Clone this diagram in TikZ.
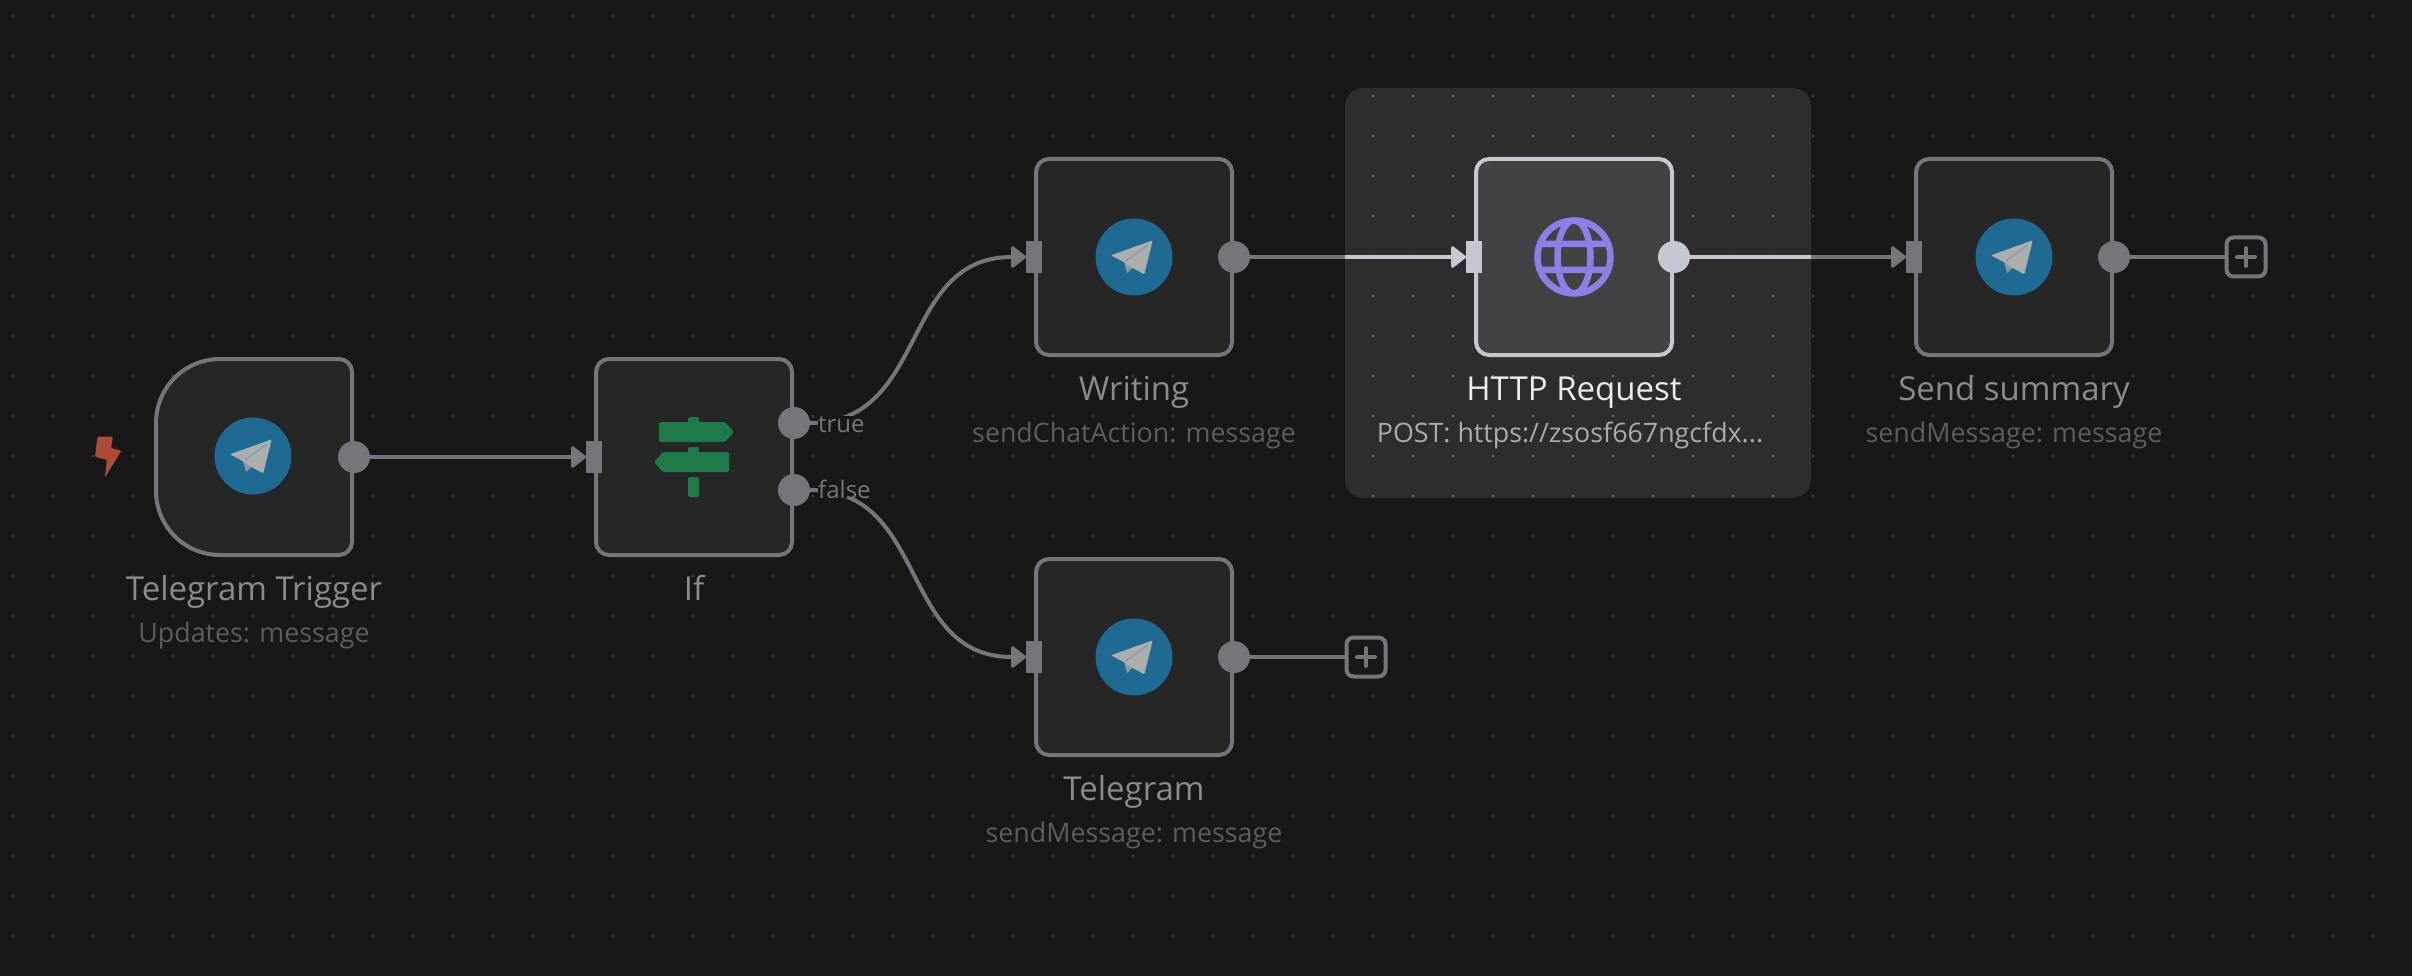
\documentclass[tikz,border=0pt]{standalone}
\usepackage{fontspec}
\setmainfont{Open Sans}
\usepackage{tikz}
\usetikzlibrary{arrows.meta}
\usetikzlibrary{positioning}
\definecolor{canvas}{HTML}{181818}
\definecolor{griddot}{HTML}{4A4A4A}
\definecolor{griddotlit}{HTML}{6E6E6E}
\definecolor{boxfill}{HTML}{262626}
\definecolor{focusfill}{HTML}{2D2D2D}
\definecolor{httpfill}{HTML}{404244}
\definecolor{wire}{HTML}{75767C}
\definecolor{wirelit}{HTML}{C5C8D3}
\definecolor{tgblue}{HTML}{1F6A92}
\definecolor{tgplane}{HTML}{ABAEAD}
\definecolor{tgfold}{HTML}{8A9AA3}
\definecolor{ifgreen}{HTML}{1F7A4A}
\definecolor{globeviolet}{HTML}{8B7FE8}
\definecolor{boltred}{HTML}{AE4A38}
\tikzset{
	flowbox/.style={draw=wire, fill=boxfill, line width=4pt, rounded corners=13pt,
		minimum size=196pt, inner sep=0pt, outer sep=0pt},
	httpbox/.style={flowbox, draw=wirelit, fill=httpfill},
	inport/.style={fill=wire, minimum width=16pt, minimum height=32pt, inner sep=0pt, outer sep=0pt},
	outport/.style={circle, fill=wire, minimum size=32pt, inner sep=0pt, outer sep=0pt},
	inportlit/.style={inport, fill=wirelit},
	outportlit/.style={outport, fill=wirelit},
	edge/.style={draw=wire, line width=4pt, -{Triangle[length=16pt,width=24pt,line width=3pt,round]}},
	edgelit/.style={edge, draw=wirelit},
	link/.style={draw=wire, line width=4pt},
	linklit/.style={draw=wirelit, line width=4pt},
	plusbox/.style={draw=wire, fill=canvas, line width=4pt, rounded corners=7pt,
		minimum size=39pt, inner sep=0pt, outer sep=0pt,
		path picture={
			\draw[wire, line width=4pt, line cap=round]
				(path picture bounding box.center) ++(-9,0) -- ++(18,0)
				(path picture bounding box.center) ++(0,-9) -- ++(0,18);
		}},
	nodename/.style={anchor=base, inner sep=0pt, text=titlegray, font=\fontsize{33}{39}\selectfont},
	nodeinfo/.style={anchor=base, inner sep=0pt, text=infogray, font=\fontsize{26.8}{32}\selectfont},
	branchlabel/.style={anchor=base west, inner sep=0pt, fill=canvas, text=titlegray!85!black,
		font=\fontsize{24}{29}\selectfont},
	telegramicon/.pic={
		\fill[tgblue] (0,0) circle (38.5);
		\fill[tgfold] (-10,5) -- (-7,16) -- (-1,10) -- cycle;
		\fill[tgplane, rounded corners=1pt] (18.7,-16.7) -- (-23,-1.7) -- (-10.3,5) -- (-2,10.7) -- (10.3,17.3) -- cycle;
		\draw[tgfold, line width=1.2pt] (14,-12) -- (-8,4);
	},
	ificon/.pic={
		\fill[ifgreen, rounded corners=2pt] (-6,-40) rectangle (5,-30);
		\fill[ifgreen, rounded corners=1.5pt] (-35,-35) -- (31,-35) -- (40,-25) -- (31,-15) -- (-35,-15) -- cycle;
		\fill[ifgreen, rounded corners=1pt] (-6,-10) rectangle (5,-4);
		\fill[ifgreen, rounded corners=1.5pt] (-31,-5) -- (35,-5) -- (35,15) -- (-31,15) -- (-40,5) -- cycle;
		\fill[ifgreen, rounded corners=2pt] (-6,20) rectangle (5,40);
	},
	globeicon/.pic={
		\draw[globeviolet, line width=6.5pt] (0,0) circle (36.5)
			(0,0) ellipse (16.5 and 36.5)
			(-32,-13) -- (32,-13)
			(-32,13) -- (32,13);
	},
}
\colorlet{titlegray}{white!50!canvas}
\colorlet{infogray}{white!30!canvas}
\begin{document}
\begin{tikzpicture}[x=1pt, y=-1pt]
	\useasboundingbox (0,0) rectangle (2412,976);
	\fill[canvas] (0,0) rectangle (2412,976);
	\node[fill=focusfill, rounded corners=18pt, minimum width=466pt, minimum height=410pt,
		inner sep=0pt, outer sep=0pt] (focus) at (1578,293) {};
	\foreach \col in {0,...,59}
		\foreach \row in {0,...,23}
			\fill[griddot] (13+40*\col,16+40*\row) circle (1.4pt);
	\foreach \col in {34,...,44}
		\foreach \row in {2,...,12}
			\fill[griddotlit] (13+40*\col,16+40*\row) circle (1.4pt);

	% boxes
	\node[flowbox, draw=none, fill=none] (trigger) at (254,457) {};
	\draw[draw=wire, fill=boxfill, line width=4pt]
		([xshift=64pt]trigger.north west) arc (-90:-180:64) -- ([yshift=64pt]trigger.south west)
		arc (180:90:64) -- ([xshift=-13pt]trigger.south east) arc (90:0:13)
		-- ([yshift=-13pt]trigger.north east) arc (0:-90:13) -- cycle;
	\node[flowbox] (ifnode) at (694,457) {};
	\node[flowbox] (writing) at (1134,257) {};
	\node[flowbox] (telegram) at (1134,657) {};
	\node[httpbox] (http) at (1574,257) {};
	\node[flowbox] (summary) at (2014,257) {};

	% icons
	\pic at (253,456) {telegramicon};
	\pic at (694,457) {ificon};
	\pic at (1134,257) {telegramicon};
	\pic at (1134,657) {telegramicon};
	\pic at (1574,257) {globeicon};
	\pic at (2014,257) {telegramicon};
	\fill[boltred, rounded corners=1.2pt] (97.5,436.7) -- (112.9,436.7) -- (111,448) -- (121.4,450.7)
		-- (104.6,478) -- (107,460) -- (95,456.7) -- cycle;

	% ports
	\node[outport] (triggerout) at (354,457) {};
	\node[inport] (ifin) at (594,457) {};
	\node[outport] (iftrue) at (794,423) {};
	\node[outport] (iffalse) at (794,490) {};
	\node[inport] (writingin) at (1034,257) {};
	\node[outport] (writingout) at (1234,257) {};
	\node[inport] (telegramin) at (1034,657) {};
	\node[outport] (telegramout) at (1234,657) {};
	\node[inportlit] (httpin) at (1474,257) {};
	\node[outportlit] (httpout) at (1674,257) {};
	\node[inport] (summaryin) at (1914,257) {};
	\node[outport] (summaryout) at (2114,257) {};
	\node[plusbox] (telegramplus) at (1366,657) {};
	\node[plusbox] (summaryplus) at (2246,257) {};
	\coordinate (focusin) at (focus.west |- httpin);
	\coordinate (focusout) at (focus.east |- httpout);

	% connectors
	\draw[edge] (triggerout) -- (ifin);
	\draw[edge] (iftrue) .. controls +(135,0) and +(-135,0) .. (writingin);
	\draw[edge] (iffalse) .. controls +(135,0) and +(-135,0) .. (telegramin);
	\draw[link] (writingout) -- (focusin);
	\draw[edgelit] (focusin) -- (httpin);
	\draw[linklit] (httpout) -- (focusout);
	\draw[edge] (focusout) -- (summaryin);
	\draw[link] (telegramout) -- (telegramplus);
	\draw[link] (summaryout) -- (summaryplus);
	\node[branchlabel] (truelabel) at (818,432) {true};
	\node[branchlabel] (falselabel) at (818,498) {false};

	% names
	\node[nodename] (triggername) at (254,600) {Telegram Trigger};
	\node[nodeinfo] (triggerinfo) at (254,642) {Updates: message};
	\node[nodename] (ifname) at (694,600) {If};
	\node[nodename] (writingname) at (1134,400) {Writing};
	\node[nodeinfo] (writinginfo) at (1134,442) {sendChatAction: message};
	\node[nodename] (telegramname) at (1134,800) {Telegram};
	\node[nodeinfo] (telegraminfo) at (1134,842) {sendMessage: message};
	\node[nodename, text=white!92!black] (httpname) at (1574,400) {HTTP Request};
	\node[nodeinfo, text=white!60!focusfill] (httpinfo) at (1570,442) {POST: https://zsosf667ngcfdx...};
	\node[nodename] (summaryname) at (2014,400) {Send summary};
	\node[nodeinfo] (summaryinfo) at (2014,442) {sendMessage: message};
\end{tikzpicture}
\end{document}
